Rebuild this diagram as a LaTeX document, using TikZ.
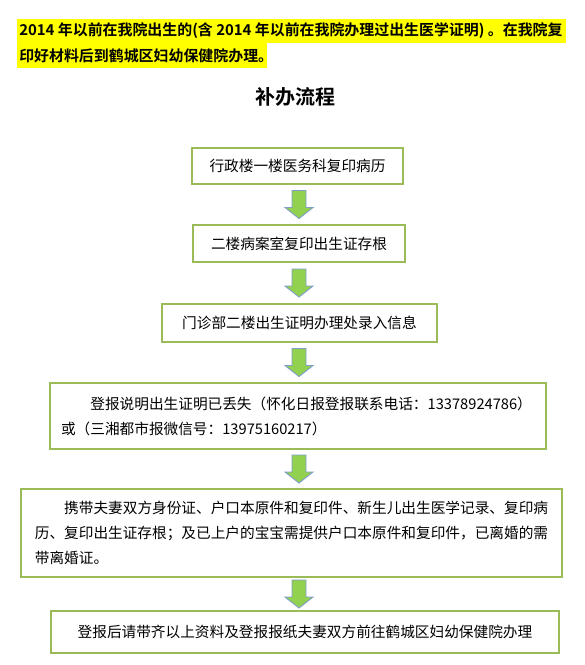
\documentclass[tikz,border=0pt]{standalone}
\usepackage{fontspec}
\setmainfont{Noto Sans CJK SC}[BoldFont={Noto Sans CJK SC Bold}]
\usetikzlibrary{calc}
\definecolor{cFrame}{HTML}{9BBB59}
\definecolor{cArrow}{HTML}{92D050}
\definecolor{cArrowEdge}{HTML}{7F9FC8}
\definecolor{cMark}{HTML}{FFFF00}

\begin{document}
\begin{tikzpicture}[
    x=0.75pt, y=-0.75pt, font=\fontsize{11}{18.75}\selectfont,
    stepbox/.style={draw=cFrame, line width=0.9pt, fill=white,
                    inner sep=0pt, align=center},
    flow/.style={draw=cArrowEdge, line width=0.7pt, fill=cArrow},
    hdr/.style={font=\fontsize{11.2}{18.75}\selectfont\bfseries,
                anchor=west, inner sep=0pt},
    ttl/.style={font=\fontsize{15}{18}\selectfont\bfseries},
]
\useasboundingbox (0,0) rectangle (585,665);

% ===========================================================================
% Aviso resaltado
% ===========================================================================
\fill[cMark] (17,19) rectangle (566,43);
\fill[cMark] (17,43) rectangle (267,68);
\node[hdr] (hdrA) at (19,31) {2014 年以前在我院出生的(含 2014 年以前在我院办理过出生医学证明) 。在我院复};
\node[hdr] (hdrB) at (19,56) {印好材料后到鹤城区妇幼保健院办理。};

\node[ttl] (ttl) at (295,97) {补办流程};

% ===========================================================================
% Pasos
% ===========================================================================
\node[stepbox, minimum width=158.25pt, minimum height=27pt] (b1) at (297.5,166)
      {行政楼一楼医务科复印病历};
\node[stepbox, minimum width=159pt, minimum height=27.75pt] (b2) at (299,243.5)
      {二楼病案室复印出生证存根};
\node[stepbox, minimum width=206.25pt, minimum height=28.5pt] (b3) at (299.5,323)
      {门诊部二楼出生证明办理处录入信息};
\node[stepbox, align=left, text width=355.5pt, inner xsep=8.25pt,
      minimum height=49.5pt] (b4) at (298,416)
      {\hspace*{2em}登报说明出生证明已丢失（怀化日报登报联系电话：13378924786）\\或（三湘都市报微信号：13975160217）};
\node[stepbox, align=left, minimum width=405.75pt,
      minimum height=66pt] (b5) at (291.5,533)
      {\hspace*{2em}携带夫妻双方身份证、户口本原件和复印件、新生儿出生医学记录、复印病\\历、复印出生证存根；及已上户的宝宝需提供户口本原件和复印件，已离婚的需\\带离婚证。};
\node[stepbox, minimum width=381pt, minimum height=31.5pt] (b6) at (305,632)
      {登报后请带齐以上资料及登报报纸夫妻双方前往鹤城区妇幼保健院办理};

% ----- Flechas de bloque entre pasos -----
\coordinate (col) at (299,0);
\foreach \a/\b in {b1/b2, b2/b3, b3/b4, b4/b5, b5/b6} {
    \path ($(\a.south -| col)!0.5!(\b.north -| col)$) coordinate (m);
    \draw[flow] ($(m)+(-7,-14)$) -- ($(m)+(7,-14)$) -- ($(m)+(7,3)$)
        -- ($(m)+(14,3)$) -- ($(m)+(0,14)$) -- ($(m)+(-14,3)$)
        -- ($(m)+(-7,3)$) -- cycle;
}

\end{tikzpicture}
\end{document}
